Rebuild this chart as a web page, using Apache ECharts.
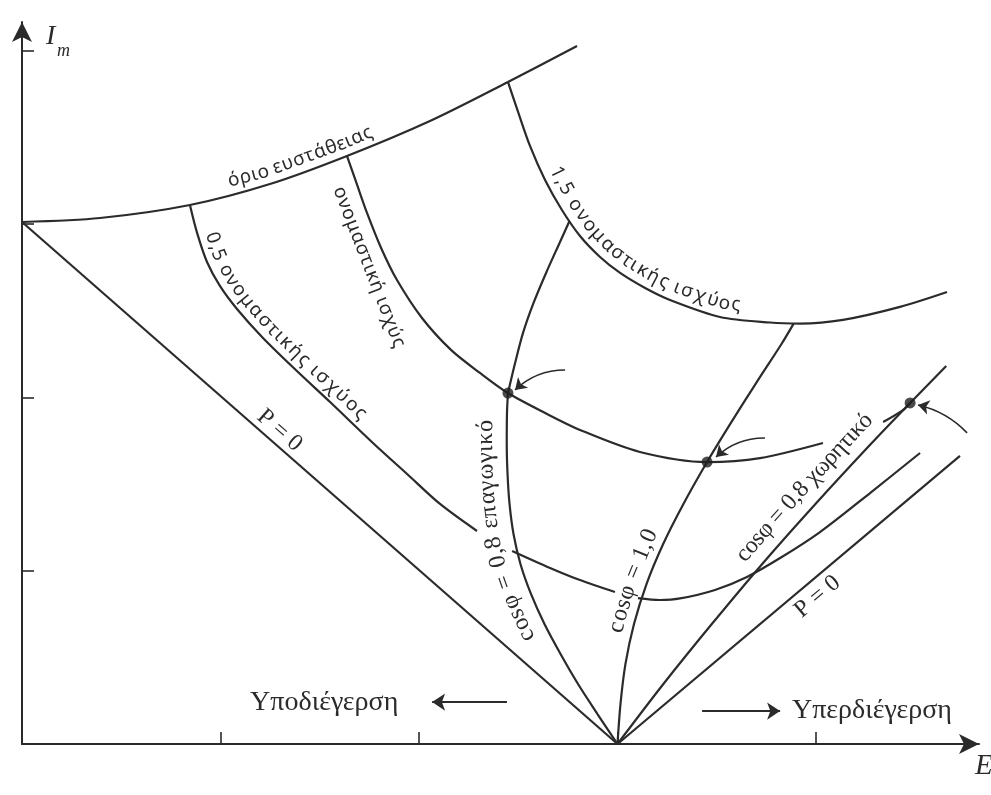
<!DOCTYPE html>
<html>
<head>
<meta charset="utf-8">
<script src="https://cdn.jsdelivr.net/npm/echarts@6/dist/echarts.min.js"></script>
<style>
  html, body { margin: 0; padding: 0; background: #ffffff; }
  #chart { width: 991px; height: 795px; }
</style>
</head>
<body>
<div id="chart"></div>
<script>
// V-curves of a synchronous motor: armature current I_m against excitation E.
// Values in axis units (one tick = 1 on each axis).

const stabilityLimit = [[0,3.012],[0.393,3.035],[0.846,3.110],[1.249,3.231],[1.637,3.393],[2.055,3.595],[2.448,3.820],[2.796,4.028]];

// null marks a break in the drawn curve (where a label crosses it)
const halfRatedPower = [[0.846,3.110],[0.882,2.949],[0.932,2.781],[0.997,2.643],[1.083,2.510],[1.214,2.343],[1.385,2.152],[1.552,1.973],[1.768,1.737],[1.940,1.558],[2.106,1.385],[2.292,1.229],
  null,
  [2.469,1.114],[2.660,1.016],[2.811,0.946],[2.987,0.877],
  null,
  [3.103,0.842],[3.214,0.831],[3.315,0.840],[3.491,0.889],[3.652,0.964],[3.819,1.073],[4.020,1.223],[4.272,1.448],[4.524,1.679]];

const ratedPower = [[1.637,3.393],[1.683,3.243],[1.738,3.064],[1.809,2.862],[1.889,2.677],[2.015,2.458],[2.161,2.274],[2.307,2.141],[2.448,2.025],[2.635,1.910],[2.811,1.812],[3.113,1.685],[3.451,1.627],[3.718,1.650],[4.035,1.737],
  null,
  [4.338,1.858],[4.438,1.927],[4.474,1.968]];

const onePointFiveRated = [[2.448,3.820],[2.499,3.647],[2.559,3.451],[2.635,3.254],[2.720,3.081],[2.811,2.931],[2.912,2.810],[3.013,2.718],[3.139,2.631],[3.264,2.562],[3.516,2.464],[3.768,2.432],[3.919,2.426],[4.136,2.447],[4.423,2.522],[4.660,2.608]];

const laggingPfLower = [[3,0],[2.899,0.173],[2.801,0.346],[2.713,0.519],[2.632,0.692],[2.564,0.866],[2.511,1.039],[2.476,1.212],[2.456,1.385],[2.446,1.558],[2.442,1.731],[2.443,1.904],[2.448,2.025]];
const laggingPfUpper = [[2.448,2.025],[2.484,2.198],[2.524,2.372],[2.577,2.545],[2.640,2.718],[2.708,2.891],[2.758,3.018]];

const unityPf = [[3,0],[3.015,0.231],[3.040,0.462],[3.083,0.692],[3.146,0.923],[3.230,1.154],[3.332,1.385],[3.451,1.627],[3.568,1.847],[3.695,2.077],[3.826,2.308],[3.888,2.427]];

const leadingPf = [[3,0],[3.231,0.346],[3.475,0.692],[3.729,1.039],[3.997,1.385],[4.276,1.731],[4.474,1.968],[4.656,2.181]];

const zeroPowerLeft = [[0,3.012],[3,0]];
const zeroPowerRight = [[3,0],[4.725,1.662]];

const operatingPoints = [[2.448,2.025],[3.451,1.627],[4.474,1.968]];

const tickValues = [1, 2, 3, 4];

// ---------------------------------------------------------------------------
const INK = '#2b2b2b';
const SANS = '"Noto Sans", "Open Sans", sans-serif';
const SERIF = '"Liberation Serif", "DejaVu Serif", serif';

const pointerArrows = [
  { from: [2.736, 2.158], to: [2.484, 2.043], bend: -0.2 },
  { from: [3.743, 1.766], to: [3.496, 1.656], bend: -0.2 },
  { from: [4.761, 1.795], to: [4.514, 1.956], bend: -0.15 }
];
const directionArrows = [
  { from: [2.443, 0.242], to: [2.066, 0.242] },
  { from: [3.426, 0.190], to: [3.819, 0.190] }
];

function splitRuns(arr) {
  const runs = [[]];
  arr.forEach(p => { if (p === null) runs.push([]); else runs[runs.length - 1].push(p); });
  return runs.filter(r => r.length > 1);
}

const curves = [stabilityLimit, halfRatedPower, ratedPower, onePointFiveRated,
  laggingPfLower, laggingPfUpper, unityPf, leadingPf, zeroPowerLeft, zeroPowerRight];

const series = [];
curves.forEach(c => splitRuns(c).forEach(run => series.push({
  type: 'line', data: run, smooth: 0.3, showSymbol: false, silent: true, z: 2,
  lineStyle: { color: INK, width: 2.2 }
})));

series.push({
  type: 'scatter', data: operatingPoints, symbolSize: 11, silent: true, z: 5,
  itemStyle: { color: '#1e1e1e' }
});
series.push({
  type: 'lines', coordinateSystem: 'cartesian2d', silent: true, z: 4,
  symbol: ['none', 'arrow'], symbolSize: [0, 11],
  lineStyle: { color: INK, width: 1.6, opacity: 1 },
  data: pointerArrows.map(a => ({ coords: [a.from, a.to], lineStyle: { curveness: a.bend } }))
});
series.push({
  type: 'lines', coordinateSystem: 'cartesian2d', silent: true, z: 4,
  symbol: ['none', 'arrow'], symbolSize: [0, 13],
  lineStyle: { color: INK, width: 2, opacity: 1, curveness: 0 },
  data: directionArrows.map(a => ({ coords: [a.from, a.to] }))
});

const axisCommon = {
  type: 'value', interval: 1, min: 0,
  splitLine: { show: false },
  axisLabel: { show: false },
  axisLine: { show: true, symbol: ['none', 'arrow'], symbolSize: [15, 20], lineStyle: { color: '#2a2a2a', width: 2 } },
  axisTick: { show: true, inside: true, length: 12, customValues: tickValues, lineStyle: { color: '#2a2a2a', width: 1.6 } }
};

const chart = echarts.init(document.getElementById('chart'), null, { renderer: 'canvas' });
chart.setOption({
  animation: false,
  backgroundColor: '#ffffff',
  grid: { left: 22, right: 12, top: 22, bottom: 51, containLabel: false },
  xAxis: Object.assign({}, axisCommon, { max: 4.821 }),
  yAxis: Object.assign({}, axisCommon, { max: 4.166 }),
  series: series
});

// ---- text placed along the curves ----------------------------------------
const measure = document.createElement('canvas').getContext('2d');
const toPx = p => chart.convertToPixel({ gridIndex: 0 }, p);

function buildPath(points) {
  const px = points.map(toPx);
  const cum = [0];
  for (let i = 1; i < px.length; i++) cum.push(cum[i - 1] + Math.hypot(px[i][0] - px[i - 1][0], px[i][1] - px[i - 1][1]));
  return { px, cum };
}
function distanceOf(path, pt) {
  const q = toPx(pt);
  let best = Infinity, s = 0;
  for (let i = 0; i < path.px.length - 1; i++) {
    const a = path.px[i], b = path.px[i + 1];
    const dx = b[0] - a[0], dy = b[1] - a[1], L2 = dx * dx + dy * dy;
    let t = L2 ? ((q[0] - a[0]) * dx + (q[1] - a[1]) * dy) / L2 : 0;
    t = Math.max(0, Math.min(1, t));
    const cx = a[0] + t * dx, cy = a[1] + t * dy;
    const d = (q[0] - cx) ** 2 + (q[1] - cy) ** 2;
    if (d < best) { best = d; s = path.cum[i] + t * Math.sqrt(L2); }
  }
  return s;
}
function pointAt(path, s) {
  const { px, cum } = path;
  s = Math.max(0, Math.min(cum[cum.length - 1], s));
  let i = 0;
  while (i < cum.length - 2 && cum[i + 1] < s) i++;
  const seg = (cum[i + 1] - cum[i]) || 1, t = (s - cum[i]) / seg;
  return [px[i][0] + t * (px[i + 1][0] - px[i][0]), px[i][1] + t * (px[i + 1][1] - px[i][1])];
}
function textAlong(lbl) {
  const path = buildPath(lbl.path.filter(p => p !== null));
  const s0 = distanceOf(path, lbl.from), s1 = distanceOf(path, lbl.to);
  measure.font = lbl.font;
  const chars = Array.from(lbl.text);
  const w = chars.map(c => measure.measureText(c).width);
  const k = (s1 - s0) / w.reduce((a, b) => a + b, 0);
  let s = s0;
  const out = [];
  chars.forEach((c, i) => {
    const adv = w[i] * k, mid = s + adv / 2;
    s += adv;
    if (c === ' ') return;
    const a = pointAt(path, mid - 7), b = pointAt(path, mid + 7);
    const ang = Math.atan2(b[1] - a[1], b[0] - a[0]);
    const p = pointAt(path, mid);
    out.push({
      type: 'text', silent: true, z: 10,
      x: p[0] + Math.sin(ang) * lbl.offset,
      y: p[1] - Math.cos(ang) * lbl.offset,
      rotation: -ang,
      style: { text: c, font: lbl.font, fill: INK, align: 'center', verticalAlign: 'middle' }
    });
  });
  return out;
}

const curveLabels = [
  { text: 'όριο ευστάθειας', path: stabilityLimit, from: [1.053, 3.172], to: [1.788, 3.466], offset: 13, font: '19px ' + SANS },
  { text: '0,5 ονομαστικής ισχύος', path: halfRatedPower, from: [0.887, 2.930], to: [1.678, 1.830], offset: 13, font: '19px ' + SANS },
  { text: 'ονομαστική ισχύς', path: [[1.592, 3.214], [1.904, 2.291]], from: [1.592, 3.214], to: [1.904, 2.291], offset: 0, font: '19px ' + SANS },
  { text: '1,5 ονομαστικής ισχύος', path: onePointFiveRated, from: [2.625, 3.300], to: [3.617, 2.450], offset: 14, font: '19px ' + SANS },
  { text: 'cosφ = 0,8 επαγωγικό', path: laggingPfLower, from: [2.661, 0.658], to: [2.443, 1.870], offset: 21, font: '24px ' + SERIF },
  { text: 'cosφ = 1,0', path: unityPf, from: [3.073, 0.623], to: [3.254, 1.189], offset: 16, font: '24px ' + SERIF },
  { text: 'cosφ = 0,8 χωρητικό', path: leadingPf, from: [3.693, 0.998], to: [4.327, 1.823], offset: 20, font: '24px ' + SERIF },
  { text: 'P = 0', path: zeroPowerLeft, from: [1.156, 1.852], to: [1.353, 1.654], offset: 13, font: '24px ' + SERIF },
  { text: 'P = 0', path: zeroPowerRight, from: [3.856, 0.823], to: [4.057, 1.017], offset: -16, font: '24px ' + SERIF }
];

const elements = [];
curveLabels.forEach(l => textAlong(l).forEach(e => elements.push(e)));

// excitation regions below the curves
const regionLabels = [
  { text: 'Υποδιέγερση', at: [1.149, 0.237] },
  { text: 'Υπερδιέγερση', at: [3.879, 0.190] }
];
regionLabels.forEach(r => {
  const p = toPx(r.at);
  elements.push({ type: 'text', silent: true, z: 10, x: p[0], y: p[1],
    style: { text: r.text, font: '28px ' + SERIF, fill: INK, align: 'left', verticalAlign: 'middle' } });
});

// axis titles
elements.push({ type: 'text', silent: true, z: 10, x: 46, y: 23,
  style: { text: 'I', font: 'italic 28px ' + SERIF, fill: INK, align: 'left', verticalAlign: 'top' } });
elements.push({ type: 'text', silent: true, z: 10, x: 57, y: 42,
  style: { text: 'm', font: 'italic 18px ' + SERIF, fill: INK, align: 'left', verticalAlign: 'top' } });
elements.push({ type: 'text', silent: true, z: 10, x: 975, y: 752,
  style: { text: 'E', font: 'italic 29px ' + SERIF, fill: INK, align: 'left', verticalAlign: 'top' } });

chart.setOption({ graphic: { elements: elements } });
</script>
</body>
</html>
